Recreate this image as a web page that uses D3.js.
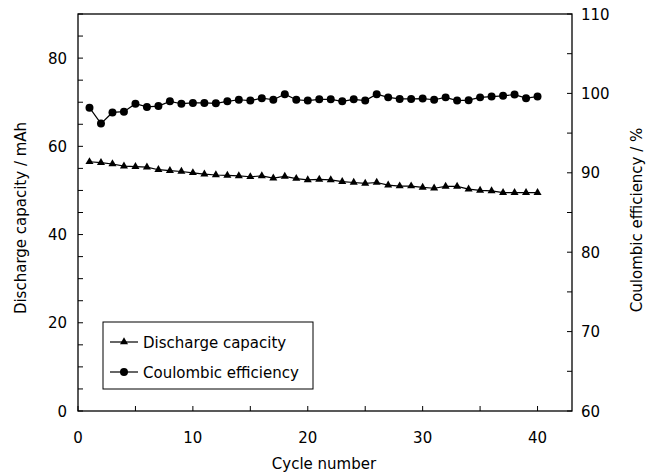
<!DOCTYPE html>
<html>
<head>
<meta charset="utf-8">
<script src="https://cdn.jsdelivr.net/npm/d3@7"></script>
<style>
  html, body { margin: 0; padding: 0; background: #fff; }
  svg { display: block; font-family: "DejaVu Sans", "Liberation Sans", Arial, sans-serif; }
</style>
</head>
<body>
<svg id="chart" width="656" height="475"></svg>
<script>
// Cycle numbers 1..40
const cycles = [1,2,3,4,5,6,7,8,9,10,11,12,13,14,15,16,17,18,19,20,
                21,22,23,24,25,26,27,28,29,30,31,32,33,34,35,36,37,38,39,40];

// Discharge capacity (mAh), left axis
const capacity = [56.5,56.3,56.0,55.5,55.4,55.3,54.7,54.5,54.3,54.0,
                  53.7,53.5,53.4,53.3,53.1,53.3,52.8,53.2,52.7,52.4,
                  52.5,52.4,52.0,51.8,51.6,51.8,51.2,51.0,51.0,50.7,
                  50.5,50.9,50.9,50.3,50.0,49.9,49.5,49.5,49.5,49.5];

// Coulombic efficiency (%), right axis
const efficiency = [98.2,96.2,97.6,97.7,98.7,98.3,98.4,99.0,98.7,98.8,
                    98.8,98.75,99.0,99.2,99.1,99.4,99.2,99.9,99.2,99.1,
                    99.25,99.25,99.0,99.25,99.1,99.9,99.5,99.3,99.3,99.35,
                    99.2,99.5,99.1,99.15,99.5,99.6,99.7,99.85,99.4,99.6];

const xTicks = [0,10,20,30,40];
const leftTicks = [0,20,40,60,80];
const rightTicks = [60,70,80,90,100,110];

const seriesNames = ["Discharge capacity", "Coulombic efficiency"];

const svg = d3.select("#chart");
const plot = { left: 78, right: 572, top: 14, bottom: 411 };

const x = d3.scaleLinear().domain([0, 43]).range([plot.left, plot.right]);
const yL = d3.scaleLinear().domain([0, 90]).range([plot.bottom, plot.top]);
const yR = d3.scaleLinear().domain([60, 110]).range([plot.bottom, plot.top]);

const tickFont = 15;

// frame
svg.append("rect")
  .attr("x", plot.left).attr("y", plot.top)
  .attr("width", plot.right - plot.left).attr("height", plot.bottom - plot.top)
  .attr("fill", "none").attr("stroke", "#000").attr("stroke-width", 1.3);

// inward ticks every 5 units
const minor = 5;
const g = svg.append("g").attr("stroke", "#000").attr("stroke-width", 1);
d3.range(0, 43, minor).forEach(v => {
  g.append("line").attr("x1", x(v)).attr("x2", x(v))
    .attr("y1", plot.bottom).attr("y2", plot.bottom - 5);
});
d3.range(0, 91, minor).forEach(v => {
  g.append("line").attr("x1", plot.left).attr("x2", plot.left + 5)
    .attr("y1", yL(v)).attr("y2", yL(v));
});
d3.range(60, 111, minor).forEach(v => {
  g.append("line").attr("x1", plot.right).attr("x2", plot.right - 5)
    .attr("y1", yR(v)).attr("y2", yR(v));
});

// tick labels
svg.append("g").selectAll("text").data(xTicks).join("text")
  .attr("x", d => x(d)).attr("y", 443)
  .attr("text-anchor", "middle").attr("font-size", tickFont).text(d => d);
svg.append("g").selectAll("text").data(leftTicks).join("text")
  .attr("x", 67).attr("y", d => yL(d) + 5.5)
  .attr("text-anchor", "end").attr("font-size", tickFont).text(d => d);
svg.append("g").selectAll("text").data(rightTicks).join("text")
  .attr("x", 581).attr("y", d => yR(d) + 5.5)
  .attr("text-anchor", "start").attr("font-size", tickFont).text(d => d);

// axis titles
svg.append("text").attr("x", 324).attr("y", 469)
  .attr("text-anchor", "middle").attr("font-size", 15).text("Cycle number");
svg.append("text").attr("transform", "translate(26,218) rotate(-90)")
  .attr("text-anchor", "middle").attr("font-size", 15).text("Discharge capacity / mAh");
svg.append("text").attr("transform", "translate(642,220) rotate(-90)")
  .attr("text-anchor", "middle").attr("font-size", 15).text("Coulombic efficiency / %");

// series
const capPts = cycles.map((c, i) => [x(c), yL(capacity[i])]);
const effPts = cycles.map((c, i) => [x(c), yR(efficiency[i])]);
const line = d3.line();

svg.append("path").attr("d", line(capPts))
  .attr("fill", "none").attr("stroke", "#000").attr("stroke-width", 1.2);
svg.append("path").attr("d", line(effPts))
  .attr("fill", "none").attr("stroke", "#000").attr("stroke-width", 1.2);

const tri = d3.symbol().type(d3.symbolTriangle).size(28);
const circ = d3.symbol().type(d3.symbolCircle).size(50);

svg.append("g").selectAll("path").data(capPts).join("path")
  .attr("transform", d => `translate(${d[0]},${d[1]})`)
  .attr("d", tri).attr("fill", "#000");
svg.append("g").selectAll("path").data(effPts).join("path")
  .attr("transform", d => `translate(${d[0]},${d[1]})`)
  .attr("d", circ).attr("fill", "#000");

// legend
const lg = svg.append("g");
lg.append("rect").attr("x", 103).attr("y", 322).attr("width", 210).attr("height", 67)
  .attr("fill", "#fff").attr("stroke", "#000").attr("stroke-width", 1);
const rows = [{ name: seriesNames[0], sym: tri, y: 342 }, { name: seriesNames[1], sym: circ, y: 372 }];
rows.forEach(r => {
  lg.append("line").attr("x1", 110).attr("x2", 138).attr("y1", r.y).attr("y2", r.y)
    .attr("stroke", "#000").attr("stroke-width", 1.2);
  lg.append("path").attr("transform", `translate(124,${r.y})`).attr("d", r.sym).attr("fill", "#000");
  lg.append("text").attr("x", 143).attr("y", r.y + 5.5).attr("font-size", 15).text(r.name);
});
</script>
</body>
</html>
